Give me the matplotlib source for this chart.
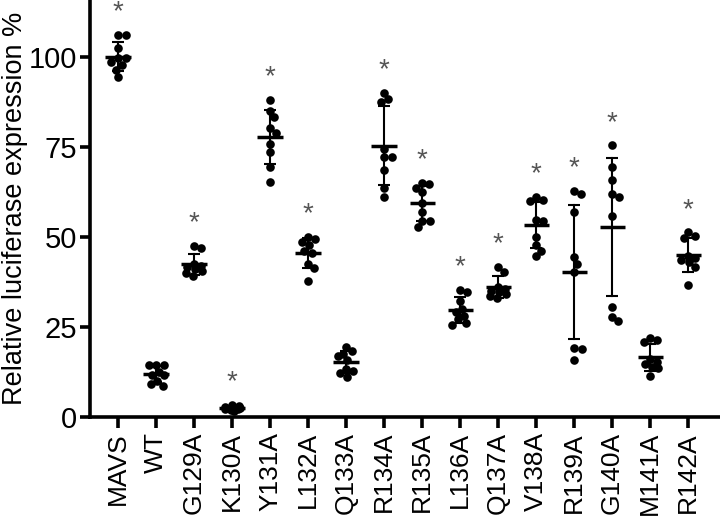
import numpy as np
import matplotlib
matplotlib.use('Agg')
import matplotlib.pyplot as plt

categories = ['MAVS', 'WT', 'G129A', 'K130A', 'Y131A', 'L132A', 'Q133A', 'R134A',
              'R135A', 'L136A', 'Q137A', 'V138A', 'R139A', 'G140A', 'M141A', 'R142A']

mavs = [106.0, 106.0, 102.3, 99.5, 99.5, 97.7, 98.5, 96.3, 94.3]
wt = [14.4, 14.4, 14.4, 12.5, 11.6, 11.6, 8.6, 9.0, 10.0]
g129a = [47.5, 46.8, 42.5, 41.8, 41.5, 41.0, 40.5, 40.0, 39.2]
k130a = [3.0, 3.2, 2.8, 2.5, 2.2, 1.8, 1.5, 2.0, 2.6]
y131a = [88.0, 84.9, 83.2, 80.1, 78.7, 75.8, 73.6, 69.4, 65.3]
l132a = [50.0, 49.3, 48.6, 47.7, 46.1, 45.5, 42.3, 41.2, 37.7]
q133a = [19.4, 18.1, 17.5, 16.9, 15.8, 13.2, 12.6, 12.0, 11.1]
r134a = [90.0, 87.5, 88.3, 74.4, 72.0, 72.0, 68.5, 63.4, 60.9]
r135a = [64.5, 65.0, 63.6, 62.3, 59.3, 56.9, 54.4, 54.2, 52.6]
l136a = [35.3, 34.5, 32.0, 30.0, 29.0, 28.0, 27.0, 26.0, 25.5]
q137a = [41.7, 40.3, 36.0, 35.5, 35.0, 34.5, 34.0, 33.5, 33.0]
v138a = [61.1, 60.2, 60.0, 54.6, 54.2, 49.8, 47.7, 46.1, 44.6]
r139a = [62.7, 61.8, 56.8, 44.2, 42.3, 40.3, 19.0, 18.8, 15.8]
g140a = [75.3, 69.4, 65.8, 61.8, 61.1, 55.8, 30.4, 27.8, 26.7]
m141a = [21.8, 21.3, 20.7, 16.0, 15.3, 14.5, 13.9, 13.4, 11.3]
r142a = [51.2, 50.3, 49.5, 44.5, 44.0, 43.5, 43.0, 41.7, 36.6]

groups = [mavs, wt, g129a, k130a, y131a, l132a, q133a, r134a,
          r135a, l136a, q137a, v138a, r139a, g140a, m141a, r142a]
significant = [True, False, True, True, True, True, False, True,
               True, True, True, True, True, True, False, True]

yticks = [0, 25, 50, 75, 100]
ylabel = 'Relative luciferase expression %'

plt.rcParams['font.family'] = ['Liberation Sans', 'DejaVu Sans']

fig = plt.figure(figsize=(7.2, 5.18), dpi=100)
ax = fig.add_axes([0.125, 0.1956, 0.875, 0.8044])
ax.set_xlim(-0.737, 15.84)
ax.set_ylim(0, 115.7)


def beeswarm(ypx, d, maxw):
    order = np.argsort(ypx)[::-1]
    placed = []
    xs = np.zeros(len(ypx))
    for i in order:
        y = ypx[i]
        cands = [0.0, maxw, -maxw]
        for (px, py) in placed:
            dy = y - py
            if abs(dy) < d:
                dx = np.sqrt(d * d - dy * dy)
                cands += [px + dx, px - dx]
        cands = [c for c in cands if abs(c) <= maxw + 1e-9]
        cands = sorted(cands, key=lambda c: (abs(c), -c))

        def mind(c):
            if not placed:
                return np.inf
            return min(np.hypot(c - px, y - py) for px, py in placed)

        chosen = None
        for c in cands:
            if mind(c) >= d - 1e-6:
                chosen = c
                break
        if chosen is None:
            chosen = max(cands, key=mind)
        xs[i] = chosen
        placed.append((chosen, y))
    return xs


inv = ax.transData.inverted()
for i, vals in enumerate(groups):
    vals = np.asarray(vals, dtype=float)
    pts = ax.transData.transform(np.column_stack([np.full(len(vals), i), vals]))
    offs = beeswarm(pts[:, 1], 7.5, 8.0)
    data = inv.transform(np.column_stack([pts[:, 0] + offs, pts[:, 1]]))
    ax.scatter(data[:, 0], vals, s=6.2 ** 2, color='black', zorder=3, linewidths=0)
    m = vals.mean()
    sd = vals.std(ddof=1)
    ax.plot([i - 0.33, i + 0.33], [m, m], color='black', lw=2.5, zorder=4,
            solid_capstyle='butt')
    ax.plot([i, i], [m - sd, m + sd], color='black', lw=1.5, zorder=4)
    for yy in (m - sd, m + sd):
        ax.plot([i - 0.16, i + 0.16], [yy, yy], color='black', lw=1.5, zorder=4,
                solid_capstyle='butt')
    if significant[i]:
        ax.text(i, vals.max() + 4.3, '*', ha='center', va='baseline',
                fontsize=20, color='#555555')

ax.set_xticks(range(len(categories)))
ax.set_xticklabels(categories, rotation=90, fontsize=19)
ax.set_yticks(yticks)
ax.set_yticklabels([str(t) for t in yticks], fontsize=21)
ax.set_ylabel(ylabel, fontsize=19.5, labelpad=1)

for s in ['top', 'right']:
    ax.spines[s].set_visible(False)
for s in ['left', 'bottom']:
    ax.spines[s].set_linewidth(2.6)
ax.tick_params(axis='both', width=2.6, length=7, color='black')
ax.tick_params(axis='x', length=8, pad=3)
ax.tick_params(axis='y', pad=2)

fig.savefig('out.png', dpi=100)
